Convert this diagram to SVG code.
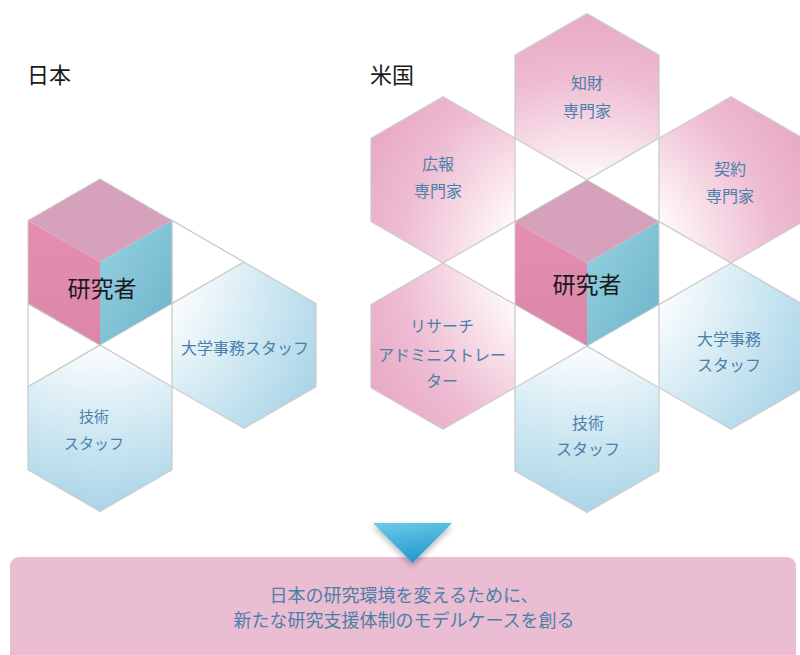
<svg xmlns="http://www.w3.org/2000/svg" width="800" height="655" viewBox="0 0 800 655">
  <defs>
    <radialGradient id="pinkR" gradientUnits="userSpaceOnUse" cx="587" cy="263" r="250">
      <stop offset="0.3" stop-color="#ffffff"/>
      <stop offset="0.5" stop-color="#f8e0ea"/>
      <stop offset="0.75" stop-color="#eebcd2"/>
      <stop offset="1" stop-color="#e8a8c5"/>
    </radialGradient>
    <radialGradient id="blueR" gradientUnits="userSpaceOnUse" cx="587" cy="263" r="250">
      <stop offset="0.3" stop-color="#ffffff"/>
      <stop offset="0.5" stop-color="#e6f3f8"/>
      <stop offset="0.75" stop-color="#c7e4f0"/>
      <stop offset="1" stop-color="#a9d4e7"/>
    </radialGradient>
    <radialGradient id="blueL" gradientUnits="userSpaceOnUse" cx="100" cy="262" r="250">
      <stop offset="0.3" stop-color="#ffffff"/>
      <stop offset="0.5" stop-color="#e6f3f8"/>
      <stop offset="0.75" stop-color="#c7e4f0"/>
      <stop offset="1" stop-color="#a9d4e7"/>
    </radialGradient>
    <linearGradient id="cubeRight" x1="0" y1="0" x2="1" y2="1">
      <stop offset="0" stop-color="#96d2e2"/>
      <stop offset="1" stop-color="#6db3c9"/>
    </linearGradient>
    <linearGradient id="cubeLeft" x1="0" y1="0" x2="0" y2="1">
      <stop offset="0" stop-color="#e48fb2"/>
      <stop offset="1" stop-color="#dc86a9"/>
    </linearGradient>
    <linearGradient id="arrowG" x1="0" y1="0" x2="0.3" y2="1">
      <stop offset="0" stop-color="#6ccbe9"/>
      <stop offset="1" stop-color="#269bcd"/>
    </linearGradient>
    <filter id="shadow" x="-30%" y="-30%" width="160%" height="170%">
      <feDropShadow dx="0" dy="3" stdDeviation="3" flood-color="#000000" flood-opacity="0.3"/>
    </filter>
    <style>
      .hex { stroke: #cccccc; stroke-width: 1.3; stroke-linejoin: round; }
      .tri { fill: #ffffff; stroke: #cccccc; stroke-width: 1.3; }
      .top { fill: #d5a1bb; }
      .lf { fill: url(#cubeLeft); }
      .rf { fill: url(#cubeRight); }
      .title { font-family: "Noto Sans CJK JP", "Noto Sans", sans-serif; font-size: 22px; fill: #1a1a1a; }
      .core { font-family: "Noto Sans CJK JP", "Noto Sans", sans-serif; font-size: 23px; fill: #1a1a1a; text-anchor: middle; dominant-baseline: central; }
      .lbl { font-family: "Noto Sans CJK JP", "Noto Sans", sans-serif; font-size: 16px; fill: #4a80aa; text-anchor: middle; dominant-baseline: central; }
      .ban { font-family: "Noto Sans CJK JP", "Noto Sans", sans-serif; font-size: 18px; fill: #4b7fa8; text-anchor: middle; dominant-baseline: central; }
    </style>
  </defs>

  <rect width="800" height="655" fill="#ffffff"/>

  <text class="title" x="27" y="83">日本</text>
  <text class="title" x="370" y="83">米国</text>

  <!-- Japan cluster -->
  <g id="jp-triangles">
    <polygon class="tri" points="172,220.4 244,262 172,303.6"/>
    <polygon class="tri" points="28,303.6 100,345.1 28,386.7"/>
  </g>
  <g id="jp-admin">
    <polygon class="hex" fill="url(#blueL)" points="244,262 316,303.6 316,386.7 244,428.3 172,386.7 172,303.6"/>
    <text class="lbl" x="245" y="347">大学事務スタッフ</text>
  </g>
  <g id="jp-tech">
    <polygon class="hex" fill="url(#blueL)" points="100,345.1 172,386.7 172,469.8 100,511.4 28,469.8 28,386.7"/>
    <text class="lbl" x="94" y="415" style="font-size:15px">技術</text>
    <text class="lbl" x="94" y="442" style="font-size:15px">スタッフ</text>
  </g>
  <g id="jp-researcher">
    <polygon class="top" points="100,178.9 172,220.4 100,262 28,220.4"/>
    <polygon class="lf" points="28,220.4 100,262 100,345.1 28,303.6"/>
    <polygon class="rf" points="100,262 172,220.4 172,303.6 100,345.1"/>
    <polygon fill="none" stroke="#cccccc" stroke-width="1" points="100,178.9 172,220.4 172,303.6 100,345.1 28,303.6 28,220.4"/>
    <text class="core" x="102" y="287">研究者</text>
  </g>

  <!-- US cluster -->
  <g id="us-ip">
    <polygon class="hex" fill="url(#pinkR)" points="587,13.6 659,55.1 659,138.3 587,179.9 515,138.3 515,55.1"/>
    <text class="lbl" x="587" y="82">知財</text>
    <text class="lbl" x="587" y="110">専門家</text>
  </g>
  <g id="us-pr">
    <polygon class="hex" fill="url(#pinkR)" points="443,96.7 515,138.3 515,221.4 443,263 371,221.4 371,138.3"/>
    <text class="lbl" x="438" y="163">広報</text>
    <text class="lbl" x="438" y="190">専門家</text>
  </g>
  <g id="us-contract">
    <polygon class="hex" fill="url(#pinkR)" points="731,96.7 803,138.3 803,221.4 731,263 659,221.4 659,138.3"/>
    <text class="lbl" x="730" y="168">契約</text>
    <text class="lbl" x="730" y="195">専門家</text>
  </g>
  <g id="us-ura">
    <polygon class="hex" fill="url(#pinkR)" points="443,263 515,304.6 515,387.7 443,429.3 371,387.7 371,304.6"/>
    <text class="lbl" x="442" y="325">リサーチ</text>
    <text class="lbl" x="442" y="354">アドミニストレー</text>
    <text class="lbl" x="442" y="380">ター</text>
  </g>
  <g id="us-admin">
    <polygon class="hex" fill="url(#blueR)" points="731,263 803,304.6 803,387.7 731,429.3 659,387.7 659,304.6"/>
    <text class="lbl" x="729" y="338">大学事務</text>
    <text class="lbl" x="729" y="364">スタッフ</text>
  </g>
  <g id="us-tech">
    <polygon class="hex" fill="url(#blueR)" points="587,346.1 659,387.7 659,470.8 587,512.4 515,470.8 515,387.7"/>
    <text class="lbl" x="588" y="422">技術</text>
    <text class="lbl" x="588" y="448">スタッフ</text>
  </g>
  <g id="us-researcher">
    <polygon class="top" points="587,179.9 659,221.4 587,263 515,221.4"/>
    <polygon class="lf" points="515,221.4 587,263 587,346.1 515,304.6"/>
    <polygon class="rf" points="587,263 659,221.4 659,304.6 587,346.1"/>
    <polygon fill="none" stroke="#cccccc" stroke-width="1" points="587,179.9 659,221.4 659,304.6 587,346.1 515,304.6 515,221.4"/>
    <text class="core" x="587" y="283">研究者</text>
  </g>

  <!-- Bottom banner -->
  <g id="banner">
    <rect x="10" y="557" width="786" height="110" rx="9" fill="#eabdd3"/>
    <text class="ban" x="404" y="594">日本の研究環境を変えるために、</text>
    <text class="ban" x="404" y="619">新たな研究支援体制のモデルケースを創る</text>
  </g>

  <g id="connectors">
    <polygon points="373,523 452,523 412.5,563" fill="url(#arrowG)" filter="url(#shadow)"/>
  </g>
</svg>
